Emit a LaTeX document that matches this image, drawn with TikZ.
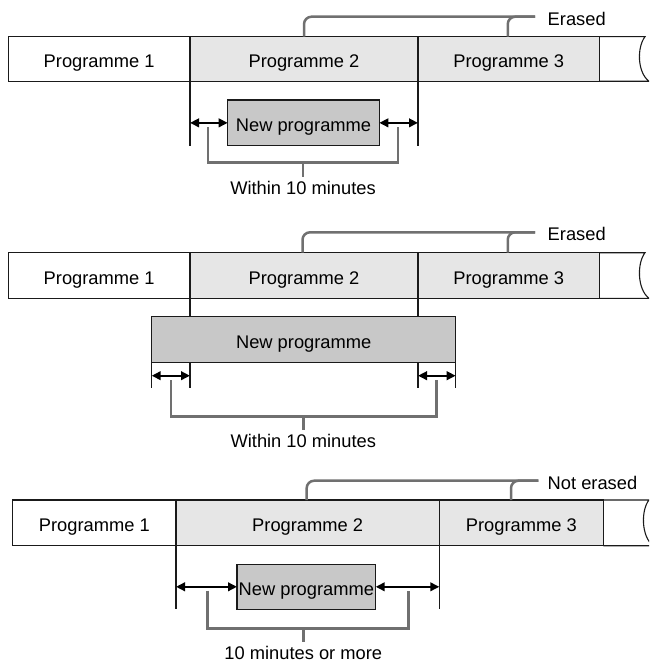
\documentclass[tikz,border=0pt]{standalone}
\usepackage{fontspec}
\setmainfont{Liberation Sans}
\usetikzlibrary{arrows.meta}
\definecolor{lightcell}{HTML}{E6E6E6}
\definecolor{newboxc}{HTML}{C8C8C8}
\definecolor{brk}{HTML}{707070}
\definecolor{ink}{HTML}{1A1A1A}
\begin{document}
\begin{tikzpicture}[x=1pt,y=-1pt,
  every node/.style={font=\fontsize{18.3}{22}\selectfont, inner sep=0pt, outer sep=0pt},
  cell/.style={draw=ink, line width=1.3pt, anchor=north west, text height=17.1pt, text depth=0pt},
  opencell/.style={anchor=north west, text height=17.1pt, text depth=0pt},
  newbox/.style={draw=ink, line width=1.2pt, fill=newboxc, anchor=north west, text height=17.1pt, text depth=0pt},
  lbl/.style={text height=13.1pt, text depth=0pt},
  thin/.style={draw=ink, line width=1.1pt},
  gap/.style={draw=black, line width=2.3pt, {Triangle[length=9pt,width=8.5pt]}-{Triangle[length=9pt,width=8.5pt]}},
  brace/.style={draw=brk, line width=2.5pt, line join=miter},
  topbrace/.style={draw=brk, line width=2.5pt, rounded corners=7.5pt},
]
\useasboundingbox (0,0) rectangle (649,663);
\clip (0,0) rectangle (649,663);

% ---------------- Panel 1 ----------------
\node[cell, minimum width=181.7pt, minimum height=44.6pt] (a1) at (8.3,36.7) {Programme 1};
\node[cell, fill=lightcell, minimum width=228pt, minimum height=44.6pt] (a2) at (190,36.7) {Programme 2};
\node[cell, fill=lightcell, minimum width=181.5pt, minimum height=44.6pt] (a3) at (418,36.7) {Programme 3};
\node[opencell, minimum width=46pt, minimum height=44.6pt] (a4) at (599.5,36.7) {};
\draw[thin] (a4.north west) -- (645,36.7) .. controls (637,47) and (637,72) .. (649,81.3) -- (a4.south west);

\node[lbl, anchor=west] (ea) at (547.7,18.7) {Erased};
\coordinate (ca) at (535,16.7);
\draw[topbrace] (a2.north) |- (ca);
\draw[topbrace] ([xshift=-1pt]a3.north) |- (ca);

\node[newbox, minimum width=151.6pt, minimum height=45.7pt] (nb1) at (227.7,100) {New programme};
\draw[thin] (a2.south west) -- (a2.south west |- nb1.south);
\draw[thin] (a2.south east) -- (a2.south east |- nb1.south);
\draw[gap] (a2.south west |- nb1.west) -- (nb1.west);
\draw[gap] (nb1.east) -- (a2.south east |- nb1.east);

\coordinate (l1a) at (208,127);
\coordinate (l1b) at (398,127);
\draw[brace] (l1a) -- (208,162.7) -- (398,162.7) -- (l1b);
\node[lbl] (w1) at (303,188) {Within 10 minutes};
\draw[brace] (303,162.7) -- (303,177);

% ---------------- Panel 2 ----------------
\node[cell, minimum width=181.7pt, minimum height=45.6pt] (b1) at (8.3,252.7) {Programme 1};
\node[cell, fill=lightcell, minimum width=228pt, minimum height=45.6pt] (b2) at (190,252.7) {Programme 2};
\node[cell, fill=lightcell, minimum width=181.5pt, minimum height=45.6pt] (b3) at (418,252.7) {Programme 3};
\node[opencell, minimum width=46pt, minimum height=45.6pt] (b4) at (599.5,252.7) {};
\draw[thin] (b4.north west) -- (645,252.7) .. controls (637,263) and (637,289) .. (649,298.3) -- (b4.south west);

\node[lbl, anchor=west] (eb) at (547.7,234.3) {Erased};
\coordinate (cb) at (535,232.3);
\draw[topbrace] ([xshift=-1.5pt]b2.north) |- (cb);
\draw[topbrace] ([xshift=-1pt]b3.north) |- (cb);

\node[newbox, minimum width=304pt, minimum height=46pt] (nb2) at (151.7,316.7) {New programme};
\draw[thin] (b2.south west) -- (b2.south west |- nb2.north);
\draw[thin] (b2.south east) -- (b2.south east |- nb2.north);
\coordinate (r2) at (0,375.7);
\coordinate (e2) at (0,388);
\draw[thin] (nb2.south west) -- (nb2.south west |- e2);
\draw[thin] (nb2.south east) -- (nb2.south east |- e2);
\draw[thin] (b2.south west |- nb2.south) -- (b2.south west |- e2);
\draw[thin] (b2.south east |- nb2.south) -- (b2.south east |- e2);
\draw[gap] (nb2.south west |- r2) -- (b2.south west |- r2);
\draw[gap] (b2.south east |- r2) -- (nb2.south east |- r2);

\coordinate (l2a) at (171,380);
\coordinate (l2b) at (436.7,380);
\draw[brace] (l2a) -- (171,416.7) -- (436.7,416.7) -- (l2b);
\node[lbl] (w2) at (303.3,440.5) {Within 10 minutes};
\draw[brace] (303.3,416.7) -- (303.3,429.5);

% ---------------- Panel 3 ----------------
\node[cell, minimum width=163.3pt, minimum height=45.7pt] (c1) at (12.7,500) {Programme 1};
\node[cell, fill=lightcell, minimum width=263.3pt, minimum height=45.7pt] (c2) at (176,500) {Programme 2};
\node[cell, fill=lightcell, minimum width=164pt, minimum height=45.7pt] (c3) at (439.3,500) {Programme 3};
\node[opencell, minimum width=46pt, minimum height=45.7pt] (c4) at (603.3,500) {};
\draw[thin] (c4.north west) -- (649,500) .. controls (641,510) and (641,536) .. (653,545.7) -- (c4.south west);

\node[lbl, anchor=west] (ec) at (547.7,482.7) {Not erased};
\coordinate (cc) at (538.3,480.7);
\draw[topbrace] ([xshift=-1pt]c2.north) |- (cc);
\draw[topbrace] ([xshift=-10.3pt]c3.north) |- (cc);

\node[newbox, minimum width=138.7pt, minimum height=45pt] (nb3) at (237,564.3) {New programme};
\draw[thin] (c2.south west) -- (c2.south west |- nb3.south);
\draw[thin] (c2.south east) -- (c2.south east |- nb3.south);
\draw[gap] (c2.south west |- nb3.west) -- (nb3.west);
\draw[gap] (nb3.east) -- (c2.south east |- nb3.east);

\coordinate (l3a) at (207.7,590.7);
\coordinate (l3b) at (408.3,590.7);
\draw[brace] (l3a) -- (207.7,628.3) -- (408.3,628.3) -- (l3b);
\node[lbl] (w3) at (303.3,652.7) {10 minutes or more};
\draw[brace] (303.3,628.3) -- (303.3,641.7);
\end{tikzpicture}
\end{document}
